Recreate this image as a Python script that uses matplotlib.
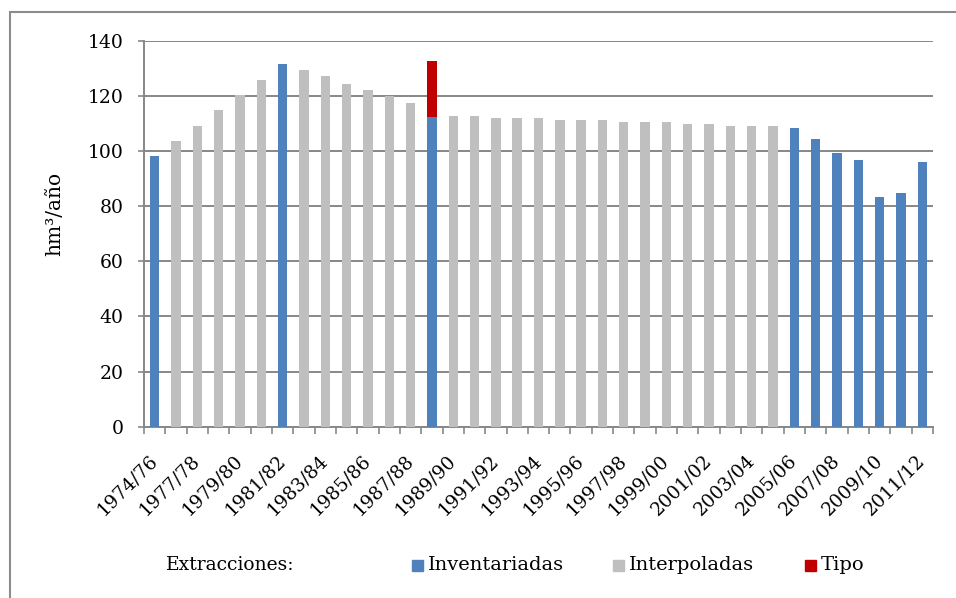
import matplotlib
matplotlib.use("Agg")
import matplotlib.pyplot as plt
from matplotlib.patches import Rectangle
import numpy as np

plt.rcParams['font.family'] = ['DejaVu Serif']

# Hydrological years
campaigns = ["1974/76"] + [f"{y}/{str(y + 1)[-2:]}" for y in range(1976, 2012)]

# Extraction volumes (hm3/year)
inventariadas = {0: 98.2, 6: 131.4, 13: 112.2, 30: 108.3, 31: 104.2,
                 32: 99.4, 33: 96.6, 34: 83.4, 35: 84.8, 36: 95.9}
interpoladas = {1: 103.6, 2: 109.2, 3: 114.7, 4: 120.2, 5: 125.7,
                7: 129.2, 8: 127.2, 9: 124.4, 10: 122.3, 11: 119.9, 12: 117.4,
                14: 112.7, 15: 112.7, 16: 112.0, 17: 112.0, 18: 112.0,
                19: 111.2, 20: 111.2, 21: 111.2, 22: 110.5, 23: 110.5,
                24: 110.5, 25: 109.8, 26: 109.8, 27: 109.1, 28: 109.1, 29: 109.1}
tipo = {13: 20.4}

yticks = [0, 20, 40, 60, 80, 100, 120, 140]

c_inv = "#4F81BD"
c_int = "#BFBFBF"
c_tipo = "#C00000"
c_grid = "#878787"

W, H = 956, 598
fig = plt.figure(figsize=(W / 100, H / 100), dpi=100)

ax_l, ax_r, ax_t, ax_b = 144, 933, 40.7, 426.7
ax = fig.add_axes([ax_l / W, 1 - ax_b / H, (ax_r - ax_l) / W, (ax_b - ax_t) / H])

n = len(campaigns)
bw = 0.44
ax.bar(list(interpoladas.keys()), list(interpoladas.values()), width=bw, color=c_int, zorder=3)
ax.bar(list(inventariadas.keys()), list(inventariadas.values()), width=bw, color=c_inv, zorder=3)
ax.bar(list(tipo.keys()), list(tipo.values()), width=bw, color=c_tipo, zorder=3,
       bottom=[inventariadas[k] for k in tipo.keys()])

ax.set_xlim(-0.5, n - 0.5)
ax.set_ylim(0, 140)
ax.set_yticks(yticks)
ax.yaxis.grid(True, color=c_grid, linewidth=1.4, zorder=0)
ax.set_axisbelow(True)

for s in ["top", "right"]:
    ax.spines[s].set_visible(False)
for s in ["left", "bottom"]:
    ax.spines[s].set_color(c_grid)
    ax.spines[s].set_linewidth(1.4)

ax.tick_params(axis="y", length=4.5, width=1.2, color=c_grid, pad=10, labelsize=13.5)

# Tick marks between categories, labels on every second campaign
ax.set_xticks(np.arange(-0.5, n, 1.0))
ax.set_xticklabels([])
ax.tick_params(axis="x", which="major", length=5, width=1.2, color=c_grid)
lab_idx = list(range(0, n, 2))
ax.set_xticks(lab_idx, minor=True)
ax.set_xticklabels([campaigns[i] for i in lab_idx], minor=True, rotation=45,
                   ha="right", va="center", rotation_mode="anchor", fontsize=13.4)
ax.tick_params(axis="x", which="minor", length=0, pad=22)

fig.text(55 / W, 1 - 214 / H, "hm³/año", rotation=90, ha="center", va="center", fontsize=14.5)

# Legend
ly = 565
fig.text(166 / W, 1 - ly / H, "Extracciones:", ha="left", va="center", fontsize=13.5)
entries = [(412, c_inv, "Inventariadas"), (613, c_int, "Interpoladas"), (805, c_tipo, "Tipo")]
for x0, col, lab in entries:
    fig.patches.append(Rectangle((x0 / W, 1 - (ly + 6) / H), 11 / W, 11 / H,
                                 transform=fig.transFigure, color=col))
    fig.text((x0 + 16) / W, 1 - ly / H, lab, ha="left", va="center", fontsize=14)

# Chart frame
fig.patches.append(Rectangle((10 / W, -0.05), 1.1, 1 - 12 / H + 0.05, transform=fig.transFigure,
                             fill=False, edgecolor="#8C8C8C", linewidth=1.5))

fig.savefig("out.png", dpi=100)
